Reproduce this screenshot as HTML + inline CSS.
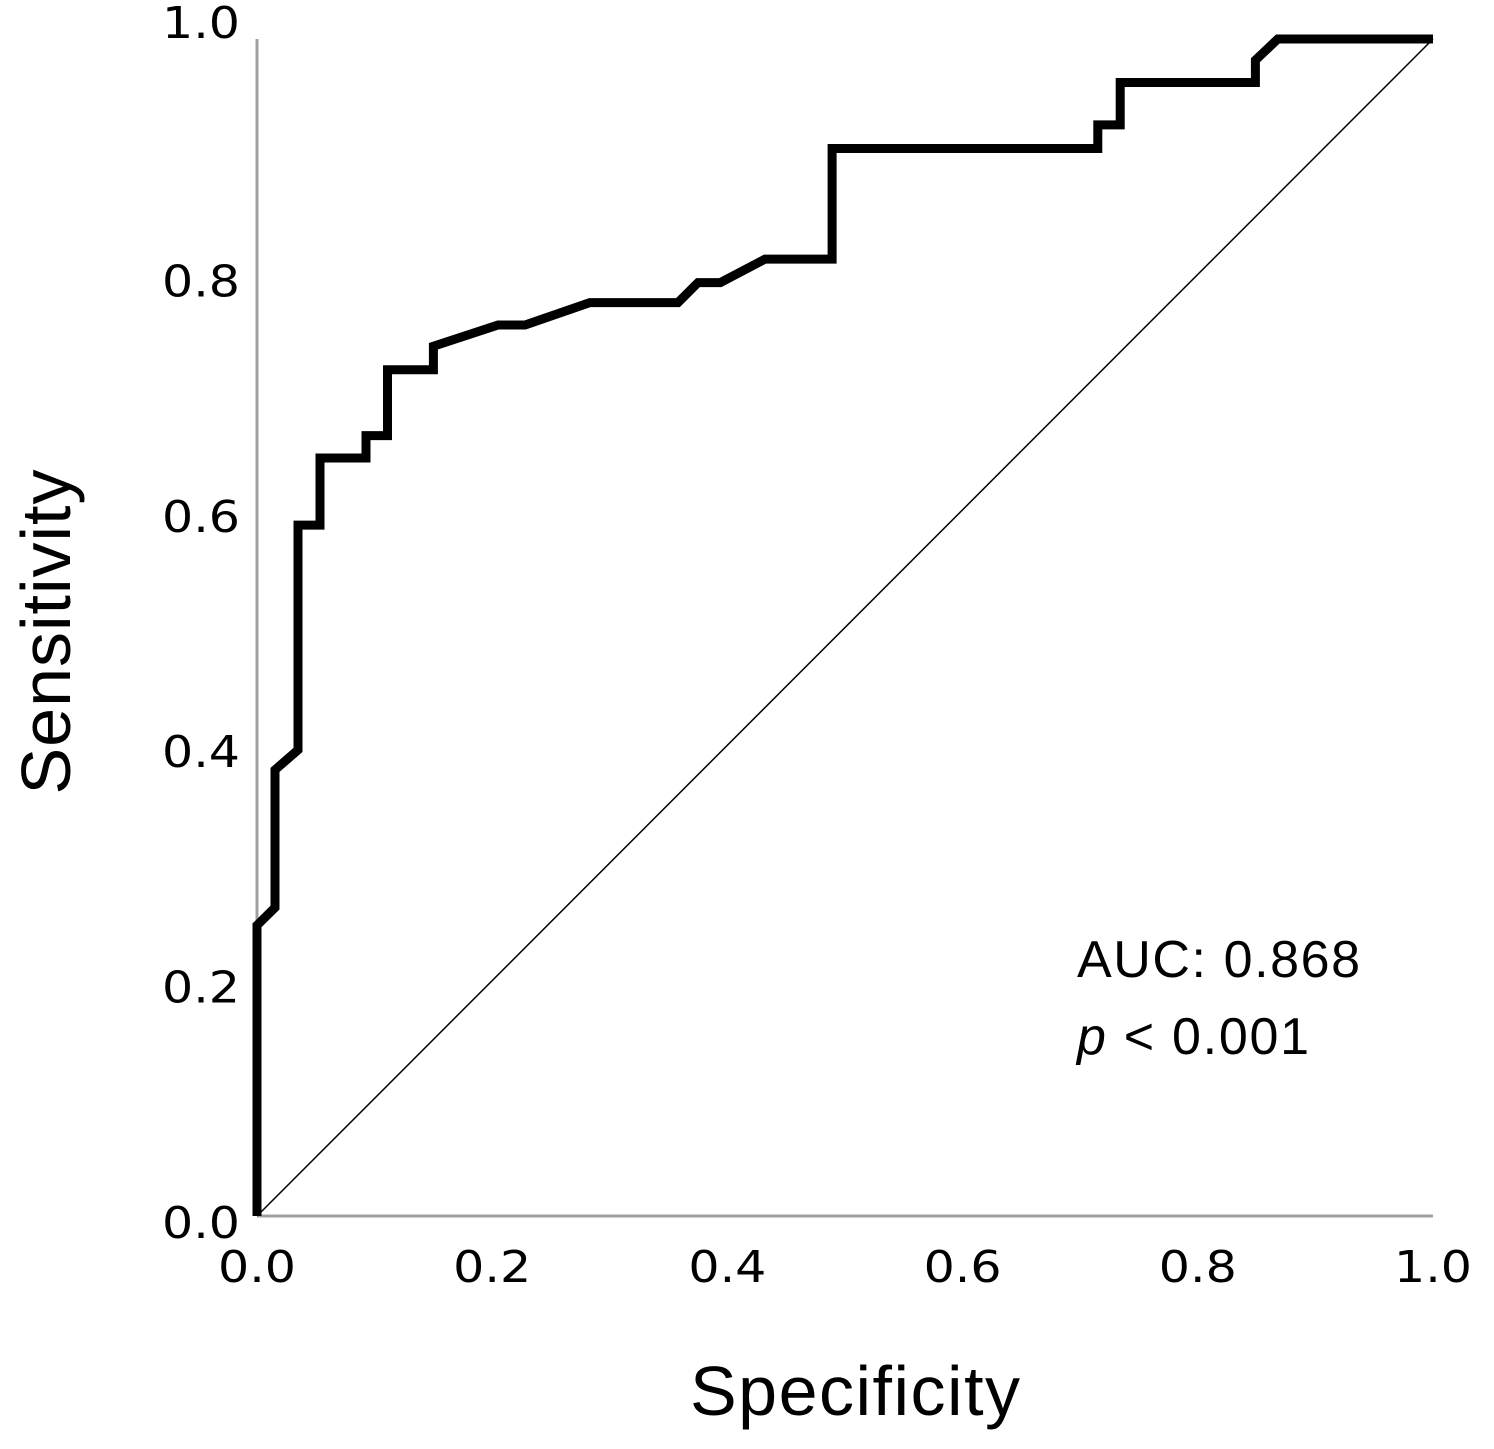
<!DOCTYPE html>
<html><head><meta charset="utf-8"><style>
html,body{margin:0;padding:0;background:#fff;}
svg{display:block;}
</style></head><body>
<svg width="1494" height="1449" viewBox="0 0 1494 1449" xmlns="http://www.w3.org/2000/svg">
<g id="axes"></g>
<g id="marks"></g>
<text x="70" y="632" transform="rotate(-90 70 632)" text-anchor="middle" font-family="Liberation Sans, sans-serif" font-size="70" fill="#000" textLength="325">Sensitivity</text>
<text x="855" y="1415" text-anchor="middle" font-family="Liberation Sans, sans-serif" font-size="70" fill="#000" textLength="330">Specificity</text>
<text x="1077" y="977" font-family="Liberation Sans, sans-serif" font-size="52" fill="#000" textLength="283">AUC: 0.868</text>
<text x="1077" y="1054" font-family="Liberation Sans, sans-serif" font-size="52" fill="#000" textLength="232"><tspan font-style="italic">p</tspan> &lt; 0.001</text>
</svg>
<script>
const rocX = [0,0,0.0153,0.0153,0.0349,0.0349,0.0536,0.0536,0.0927,0.0927,0.111,0.111,0.150,0.150,0.205,0.228,0.283,0.358,0.375,0.394,0.432,0.489,0.489,0.715,0.715,0.734,0.734,0.849,0.849,0.868,1];
const rocY = [0,0.247,0.262,0.379,0.396,0.587,0.587,0.644,0.644,0.663,0.663,0.719,0.719,0.739,0.757,0.757,0.776,0.776,0.793,0.793,0.813,0.813,0.907,0.907,0.927,0.927,0.963,0.963,0.982,1,1];
const xTicks = [0,0.2,0.4,0.6,0.8,1.0];
const yTicks = [0,0.2,0.4,0.6,0.8,1.0];
const tickLabels = ["0.0","0.2","0.4","0.6","0.8","1.0"];

const X0=257,X1=1433,Y0=1216,Y1=39;
const sx=v=>X0+v*(X1-X0);
const sy=v=>Y0-v*(Y0-Y1);
const NS="http://www.w3.org/2000/svg";
const axes=document.getElementById('axes'), marks=document.getElementById('marks');
function mk(tag,attrs,parent){const e=document.createElementNS(NS,tag);for(const k in attrs)e.setAttribute(k,attrs[k]);parent.appendChild(e);return e;}

let l=mk('line',{x1:X0,y1:Y1,x2:X0,y2:Y0,stroke:'#a0a0a0','stroke-width':3},axes);


l=mk('line',{x1:X0,y1:Y0,x2:X1,y2:Y0,stroke:'#a0a0a0','stroke-width':3},axes);



xTicks.forEach((v,i)=>{
  const t=mk('text',{x:sx(v),y:1282,'text-anchor':'middle','font-family':'DejaVu Sans, sans-serif','font-size':44,fill:'#000',textLength:78,lengthAdjust:'spacingAndGlyphs'},axes);
  t.textContent=tickLabels[i];
  
  
});
yTicks.forEach((v,i)=>{
  const yy = v===1 ? 38 : sy(v)+22;
  const t=mk('text',{x:240,y:yy,'text-anchor':'end','font-family':'DejaVu Sans, sans-serif','font-size':44,fill:'#000',textLength:78,lengthAdjust:'spacingAndGlyphs'},axes);
  t.textContent=tickLabels[i];
  
  
});

const diag=mk('line',{x1:sx(0),y1:sy(0),x2:sx(1),y2:sy(1),stroke:'#000','stroke-width':1.5},marks);



const pts=rocX.map((x,i)=>sx(x).toFixed(1)+','+sy(rocY[i]).toFixed(1)).join(' ');
const roc=mk('polyline',{points:pts,fill:'none',stroke:'#000','stroke-width':9,'stroke-linejoin':'miter'},marks);


</script>
</body></html>
